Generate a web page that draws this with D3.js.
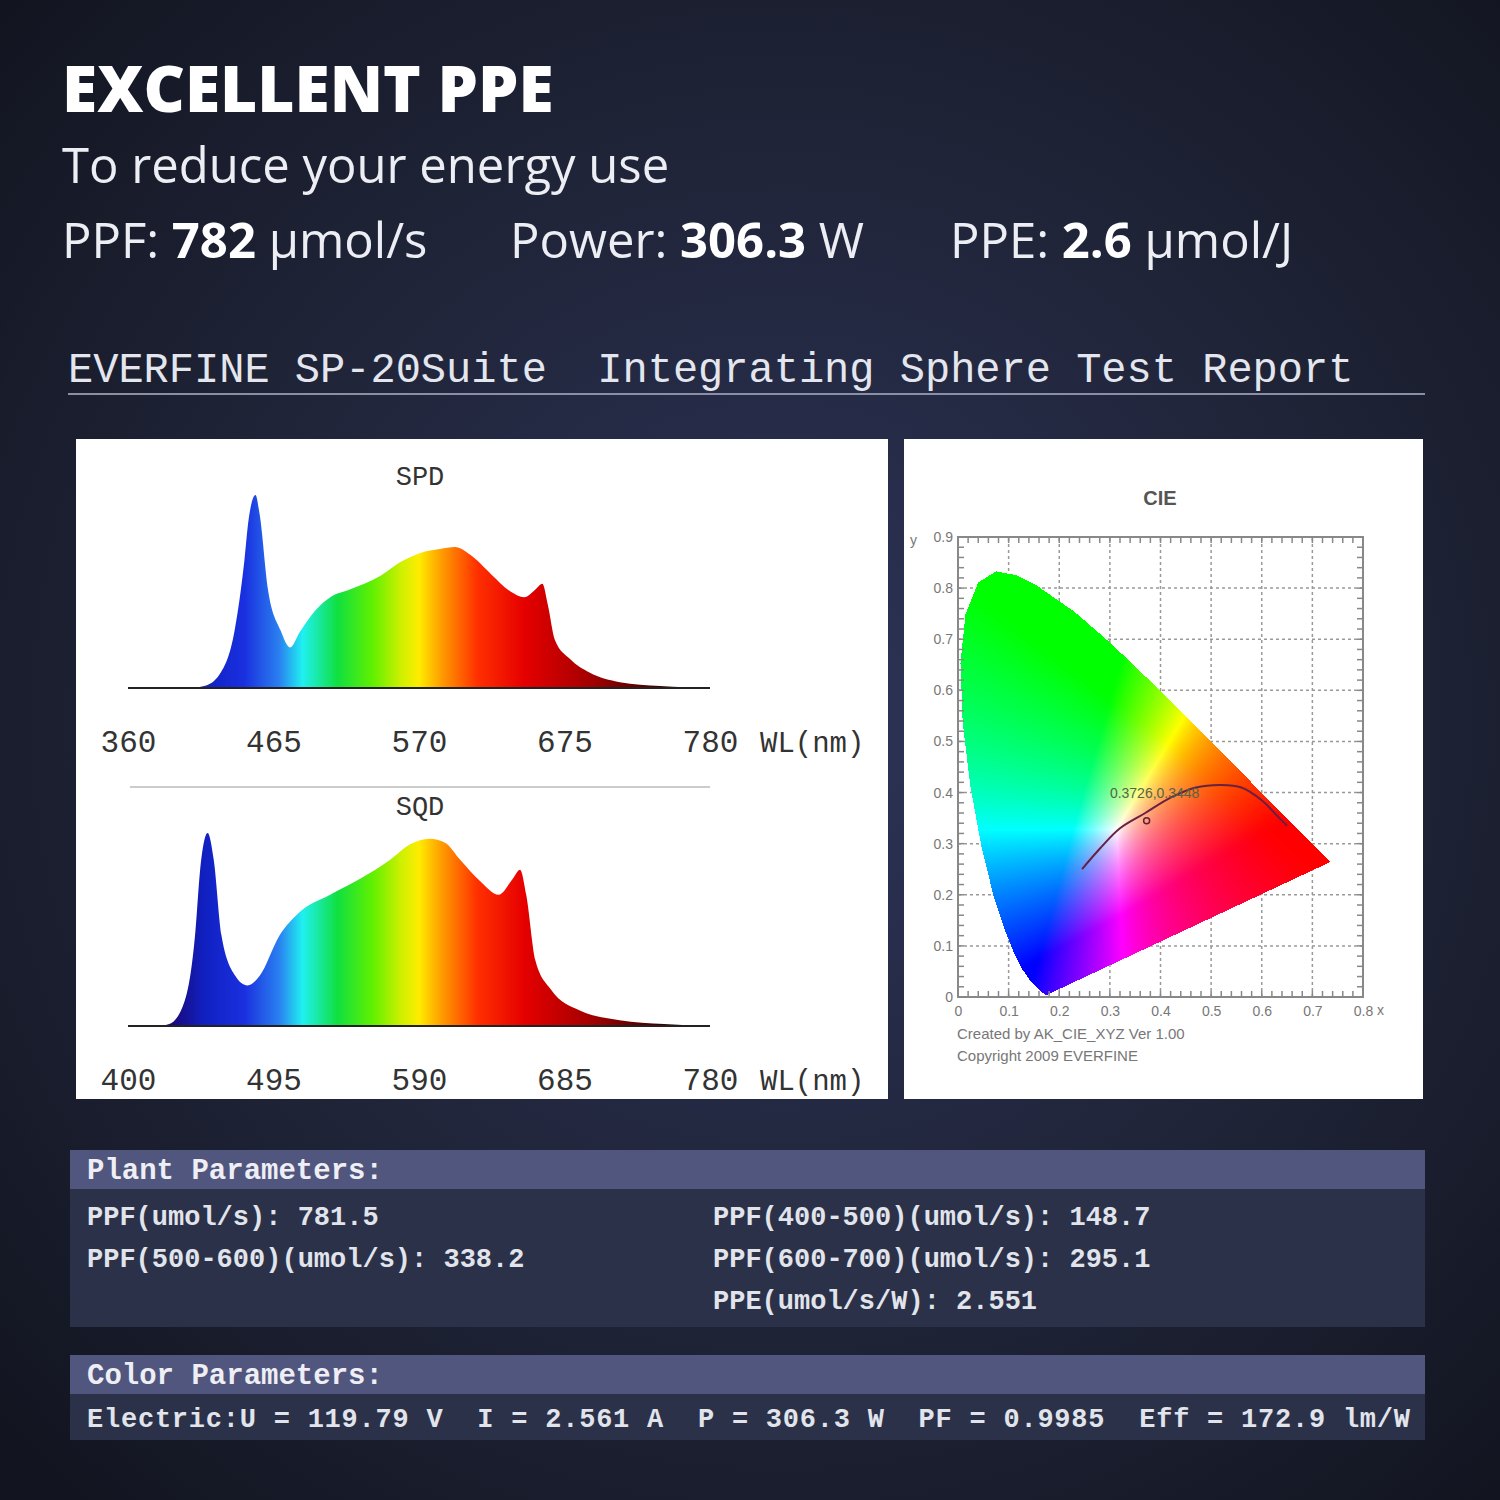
<!DOCTYPE html>
<html>
<head>
<meta charset="utf-8">
<script src="https://cdn.jsdelivr.net/npm/d3@7"></script>
<style>
  body { margin: 0; background: #161a26; }
  svg { display: block; }
</style>
</head>
<body>
<div id="chart"></div>
<script>
// ---- data ----
// SPD, relative intensity (peak = 1)
const spdWl  = [360, 405, 415, 426, 437, 444, 447, 452, 455, 461, 470, 477, 484, 495, 506, 520, 542, 556, 571, 585, 596, 607, 622, 636, 646, 654, 659, 663, 668, 679, 693, 715, 744, 780]
const spdVal = [0, 0, 0.01, 0.07, 0.30, 0.66, 0.87, 1.0, 0.90, 0.51, 0.30, 0.21, 0.29, 0.40, 0.47, 0.51, 0.58, 0.65, 0.70, 0.72, 0.73, 0.69, 0.59, 0.50, 0.47, 0.51, 0.54, 0.43, 0.25, 0.15, 0.08, 0.03, 0.01, 0]
const spdTicks = [360, 465, 570, 675, 780]
// SQD, relative
const sqdWl  = [400, 420, 427, 437, 444, 447, 452, 456, 461, 470, 478, 486, 499, 512, 532, 551, 571, 584, 597, 607, 617, 630, 642, 651, 656, 660, 666, 676, 695, 721, 750, 780]
const sqdVal = [0, 0, 0.01, 0.13, 0.49, 0.80, 1.0, 0.86, 0.47, 0.26, 0.21, 0.26, 0.47, 0.59, 0.68, 0.76, 0.86, 0.94, 0.97, 0.95, 0.86, 0.75, 0.68, 0.76, 0.81, 0.68, 0.34, 0.19, 0.08, 0.03, 0.01, 0]
const sqdTicks = [400, 495, 590, 685, 780]
// CIE 1931 spectral locus (x, y)
const locusX = [0.1741, 0.1714, 0.1644, 0.1566, 0.1440, 0.1241, 0.1096, 0.0913, 0.0687, 0.0454, 0.0235, 0.0082, 0.0039, 0.0139, 0.0389, 0.0743, 0.1142, 0.1547, 0.2296, 0.3016, 0.3731, 0.4441, 0.5125, 0.5752, 0.6270, 0.6915, 0.7190, 0.7347]
const locusY = [0.0050, 0.0051, 0.0109, 0.0177, 0.0297, 0.0578, 0.0868, 0.1327, 0.2007, 0.2950, 0.4127, 0.5384, 0.6548, 0.7502, 0.8120, 0.8338, 0.8262, 0.8059, 0.7543, 0.6923, 0.6245, 0.5547, 0.4866, 0.4242, 0.3725, 0.3083, 0.2809, 0.2653]
// black-body-like curve drawn on the CIE plot
const bbX = [0.245, 0.28, 0.32, 0.37, 0.42, 0.47, 0.52, 0.56, 0.60, 0.63, 0.65]
const bbY = [0.25, 0.29, 0.33, 0.36, 0.39, 0.41, 0.415, 0.41, 0.385, 0.355, 0.335]
const cieX = 0.3726, cieY = 0.3448
const cieTicks = [0, 0.1, 0.2, 0.3, 0.4, 0.5, 0.6, 0.7, 0.8]
const cieYTicks = [0, 0.1, 0.2, 0.3, 0.4, 0.5, 0.6, 0.7, 0.8, 0.9]
// tables
const plantLeft  = ["PPF(umol/s): 781.5", "PPF(500-600)(umol/s): 338.2"]
const plantRight = ["PPF(400-500)(umol/s): 148.7", "PPF(600-700)(umol/s): 295.1", "PPE(umol/s/W): 2.551"]
const colorLine  = "Electric:U = 119.79 V  I = 2.561 A  P = 306.3 W  PF = 0.9985  Eff = 172.9 lm/W"
const headline   = [["PPF: ", "782", " μmol/s"], ["Power: ", "306.3", " W"], ["PPE: ", "2.6", " μmol/J"]]

const W = 1500, H = 1500
const mono = "'Liberation Mono', 'DejaVu Sans Mono', monospace"

const svg = d3.select("#chart").append("svg")
  .attr("width", W).attr("height", H)
const defs = svg.append("defs")

// background
const bg = defs.append("radialGradient").attr("id", "bg")
  .attr("cx", "52%").attr("cy", "48%").attr("r", "70%")
bg.append("stop").attr("offset", "0").attr("stop-color", "#2d3458")
bg.append("stop").attr("offset", "0.55").attr("stop-color", "#1f2438")
bg.append("stop").attr("offset", "1").attr("stop-color", "#121520")
svg.append("rect").attr("width", W).attr("height", H).attr("fill", "url(#bg)")

// header texts
svg.append("text").attr("x", 62).attr("y", 112)
  .style("font-family", "'Open Sans'").style("font-weight", 800).style("font-size", "64px")
  .attr("fill", "#fff").text("EXCELLENT PPE")
svg.append("text").attr("x", 62).attr("y", 183)
  .style("font-family", "'Open Sans'").style("font-size", "49px")
  .attr("fill", "#eceef4").text("To reduce your energy use")
const hx = [62, 510, 950]
headline.forEach((h, i) => {
  const t = svg.append("text").attr("x", hx[i]).attr("y", 258)
    .style("font-family", "'Open Sans'").style("font-size", "49px").attr("fill", "#eceef4")
  t.append("tspan").text(h[0])
  t.append("tspan").style("font-weight", 700).attr("fill", "#fff").text(h[1])
  t.append("tspan").text(h[2])
})

svg.append("text").attr("x", 68).attr("y", 382)
  .style("font-family", mono).style("font-size", "42px").attr("fill", "#e4e6ee")
  .attr("xml:space", "preserve").text("EVERFINE SP-20Suite  Integrating Sphere Test Report")
svg.append("line").attr("x1", 68).attr("x2", 1425).attr("y1", 394).attr("y2", 394)
  .attr("stroke", "#8a8fa6").attr("stroke-width", 2)

// white panels
svg.append("rect").attr("x", 76).attr("y", 439).attr("width", 812).attr("height", 660).attr("fill", "#fff")
svg.append("rect").attr("x", 904).attr("y", 439).attr("width", 519).attr("height", 660).attr("fill", "#fff")

// spectrum gradient (by position along the axis)
const spec = defs.append("linearGradient").attr("id", "spec")
  .attr("gradientUnits", "userSpaceOnUse").attr("x1", 128).attr("x2", 710).attr("y1", 0).attr("y2", 0)
const specStops = [[0, "#1a0a60"], [0.08, "#1a0a80"], [0.13, "#1020c0"], [0.2, "#1a30e0"], [0.26, "#2a80f0"], [0.3, "#20f0f0"],
  [0.36, "#10e040"], [0.42, "#60f000"], [0.47, "#d0f000"], [0.5, "#ffec00"], [0.54, "#ff9a00"],
  [0.6, "#ff3000"], [0.68, "#e60000"], [0.8, "#a00000"], [0.92, "#3a0000"], [1, "#000"]]
specStops.forEach(s => spec.append("stop").attr("offset", s[0]).attr("stop-color", s[1]))

function spectrum(wl, val, ticks, base, top, labelY, title, titleY) {
  const x = d3.scaleLinear().domain([ticks[0], 780]).range([128, 710])
  const y = d3.scaleLinear().domain([0, 1]).range([base, top])
  const pts = wl.map((w, i) => [w, val[i]])
  svg.append("path").datum(pts)
    .attr("d", d3.area().x(d => x(d[0])).y0(base).y1(d => y(d[1])).curve(d3.curveMonotoneX))
    .attr("fill", "url(#spec)")
  svg.append("line").attr("x1", 128).attr("x2", 710).attr("y1", base).attr("y2", base)
    .attr("stroke", "#222").attr("stroke-width", 2)
  const ax = svg.append("g").attr("transform", `translate(0,${labelY})`)
    .call(d3.axisBottom(x).tickValues(ticks).tickSize(0).tickPadding(0))
  ax.select(".domain").remove()
  ax.selectAll("text").style("font-family", mono).style("font-size", "31px").attr("fill", "#333").attr("dy", 0)
  svg.append("text").attr("x", 760).attr("y", labelY).style("font-family", mono).style("font-size", "29px")
    .attr("fill", "#333").text("WL(nm)")
  svg.append("text").attr("x", 420).attr("y", titleY).attr("text-anchor", "middle")
    .style("font-family", mono).style("font-size", "27px").attr("fill", "#333").text(title)
}
spectrum(spdWl, spdVal, spdTicks, 688, 495, 752, "SPD", 485)
spectrum(sqdWl, sqdVal, sqdTicks, 1026, 833, 1090, "SQD", 815)
svg.append("line").attr("x1", 130).attr("x2", 710).attr("y1", 787).attr("y2", 787)
  .attr("stroke", "#ccc").attr("stroke-width", 2)

// ---- CIE chart ----
const cx = d3.scaleLinear().domain([0, 0.8]).range([958, 1363])
const cy = d3.scaleLinear().domain([0, 0.9]).range([997, 537])
const locus = locusX.map((v, i) => [v, locusY[i]])

// render the chromaticity colours into a canvas and use it as an image
const px0 = 958, py0 = 537, pw = 405, ph = 460
const canvas = document.createElement("canvas")
canvas.width = pw; canvas.height = ph
const ctx = canvas.getContext("2d")
const img = ctx.createImageData(pw, ph)
const gam = c => c <= 0.0031308 ? 12.92 * c : 1.055 * Math.pow(c, 1 / 2.4) - 0.055
for (let j = 0; j < ph; j++) {
  for (let i = 0; i < pw; i++) {
    const xx = cx.invert(px0 + i), yy = cy.invert(py0 + j)
    if (yy <= 0.001 || !d3.polygonContains(locus, [xx, yy])) continue
    const X = xx / yy, Y = 1, Z = (1 - xx - yy) / yy
    let r = 3.2406 * X - 1.5372 * Y - 0.4986 * Z
    let g = -0.9689 * X + 1.8758 * Y + 0.0415 * Z
    let b = 0.0557 * X - 0.2040 * Y + 1.0570 * Z
    r = Math.max(r, 0); g = Math.max(g, 0); b = Math.max(b, 0)
    const m = Math.max(r, g, b)
    // push saturation
    const k = (i + j * pw) * 4
    img.data[k] = Math.round(255 * gam(Math.pow(r / m, 1.9)))
    img.data[k + 1] = Math.round(255 * gam(Math.pow(g / m, 1.9)))
    img.data[k + 2] = Math.round(255 * gam(Math.pow(b / m, 1.9)))
    img.data[k + 3] = 255
  }
}
ctx.putImageData(img, 0, 0)

// grid
const grid = svg.append("g")
cieTicks.forEach(t => grid.append("line").attr("x1", cx(t)).attr("x2", cx(t)).attr("y1", cy(0)).attr("y2", cy(0.9)))
cieYTicks.forEach(t => grid.append("line").attr("x1", cx(0)).attr("x2", cx(0.8)).attr("y1", cy(t)).attr("y2", cy(t)))
grid.selectAll("line").attr("stroke", "#999").attr("stroke-width", 1.5).attr("stroke-dasharray", "3,3")

svg.append("image").attr("x", px0).attr("y", py0).attr("width", pw).attr("height", ph)
  .attr("href", canvas.toDataURL())

svg.append("rect").attr("x", cx(0)).attr("y", cy(0.9)).attr("width", cx(0.8) - cx(0)).attr("height", cy(0) - cy(0.9))
  .attr("fill", "none").attr("stroke", "#888").attr("stroke-width", 2)
// minor ticks
const minor = d3.range(0, 0.8001, 0.02), minorY = d3.range(0, 0.9001, 0.02)
const mt = svg.append("g").attr("stroke", "#888").attr("stroke-width", 1.5)
minor.forEach(t => {
  mt.append("line").attr("x1", cx(t)).attr("x2", cx(t)).attr("y1", cy(0)).attr("y2", cy(0) - 6)
  mt.append("line").attr("x1", cx(t)).attr("x2", cx(t)).attr("y1", cy(0.9)).attr("y2", cy(0.9) + 6)
})
minorY.forEach(t => {
  mt.append("line").attr("x1", cx(0)).attr("x2", cx(0) + 6).attr("y1", cy(t)).attr("y2", cy(t))
  mt.append("line").attr("x1", cx(0.8)).attr("x2", cx(0.8) - 6).attr("y1", cy(t)).attr("y2", cy(t))
})

// black body curve and point
svg.append("path").datum(bbX.map((v, i) => [v, bbY[i]]))
  .attr("d", d3.line().x(d => cx(d[0])).y(d => cy(d[1])).curve(d3.curveCatmullRom))
  .attr("fill", "none").attr("stroke", "#6a2040").attr("stroke-width", 2)
svg.append("circle").attr("cx", cx(cieX)).attr("cy", cy(cieY)).attr("r", 3)
  .attr("fill", "none").attr("stroke", "#602030").attr("stroke-width", 1.5)
svg.append("text").attr("x", cx(0.3)).attr("y", cy(0.39))
  .style("font-family", "'Liberation Sans'").style("font-size", "14px").attr("fill", "#556644")
  .text(`${cieX},${cieY}`)

const axX = svg.append("g").attr("transform", `translate(0,${cy(0) + 6})`)
  .call(d3.axisBottom(cx).tickValues(cieTicks).tickSize(0).tickFormat(d => d === 0 ? "0" : d3.format(".1f")(d)))
axX.select(".domain").remove()
axX.selectAll("text").style("font-family", "'Liberation Sans'").style("font-size", "14px").attr("fill", "#777")
svg.append("text").attr("x", cx(0.8) + 14).attr("y", cy(0) + 18).style("font-family", "'Liberation Sans'")
  .style("font-size", "14px").attr("fill", "#777").text("x")
const axY = svg.append("g").attr("transform", `translate(${cx(0) - 2},0)`)
  .call(d3.axisLeft(cy).tickValues(cieYTicks).tickSize(0).tickFormat(d => d === 0 ? "0" : d3.format(".1f")(d)))
axY.select(".domain").remove()
axY.selectAll("text").style("font-family", "'Liberation Sans'").style("font-size", "14px").attr("fill", "#777")
svg.append("text").attr("x", 910).attr("y", cy(0.9) + 8).style("font-family", "'Liberation Sans'")
  .style("font-size", "14px").attr("fill", "#777").text("y")
svg.append("text").attr("x", 1160).attr("y", 505).attr("text-anchor", "middle")
  .style("font-family", "'Liberation Sans'").style("font-weight", 700).style("font-size", "20px")
  .attr("fill", "#555").text("CIE")
svg.append("text").attr("x", 957).attr("y", 1039).style("font-family", "'Liberation Sans'")
  .style("font-size", "15px").attr("fill", "#777").text("Created by AK_CIE_XYZ Ver 1.00")
svg.append("text").attr("x", 957).attr("y", 1061).style("font-family", "'Liberation Sans'")
  .style("font-size", "15px").attr("fill", "#777").text("Copyright 2009 EVERFINE")

// ---- tables ----
function table(y0, title, bodyH) {
  svg.append("rect").attr("x", 70).attr("y", y0).attr("width", 1355).attr("height", 39).attr("fill", "#50567e")
  svg.append("rect").attr("x", 70).attr("y", y0 + 39).attr("width", 1355).attr("height", bodyH).attr("fill", "#2a3148")
  svg.append("text").attr("x", 87).attr("y", y0 + 29).style("font-family", mono).style("font-weight", 700)
    .style("font-size", "29px").attr("fill", "#eeeef4").text(title)
}
const bodyText = (x, y, s) => svg.append("text").attr("x", x).attr("y", y).attr("xml:space", "preserve")
  .style("font-family", mono).style("font-weight", 700).style("font-size", "27px").attr("fill", "#e2e4ec").text(s)

table(1150, "Plant Parameters:", 138)
plantLeft.forEach((s, i) => bodyText(87, 1225 + i * 42, s))
plantRight.forEach((s, i) => bodyText(713, 1225 + i * 42, s))
table(1355, "Color Parameters:", 46)
bodyText(87, 1427, colorLine).attr("textLength", 1323)
</script>
</body>
</html>
